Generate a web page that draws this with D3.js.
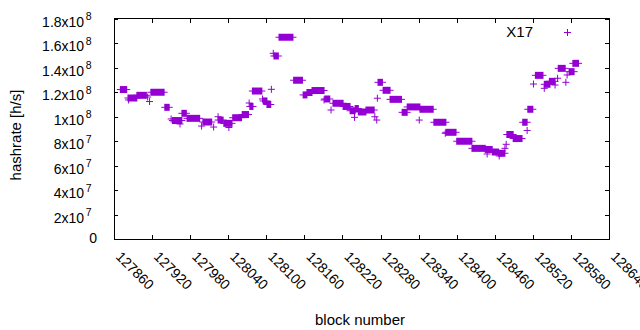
<!DOCTYPE html>
<html>
<head>
<meta charset="utf-8">
<script src="https://cdnjs.cloudflare.com/ajax/libs/d3/7.8.5/d3.min.js"></script>
<style>
	body { margin: 0; background: #fff; }
	svg { display: block; font-family: "Liberation Sans", Arial, sans-serif; }
</style>
</head>
<body>
<svg id="chart" width="640" height="330"></svg>
<script>
// runs of blocks that share one hashrate (from == to is a single point)
var blockFrom = [127870, 127882, 127883, 127896, 127913, 127916, 127918, 127940, 127950, 127952,
	127964, 127967, 127975, 127998, 128000, 128017, 128024, 128024, 128033, 128041,
	128047, 128062, 128073, 128074, 128078, 128094, 128095, 128101, 128108, 128111,
	128112, 128120, 128143, 128158, 128164, 128172, 128191, 128192, 128202, 128205,
	128221, 128232, 128239, 128240, 128245, 128257, 128271, 128274, 128275, 128276,
	128284, 128295, 128314, 128322, 128341, 128342, 128364, 128382, 128383, 128400,
	128424, 128445, 128448, 128456, 128466, 128467, 128476, 128478, 128479, 128489,
	128504, 128511, 128512, 128521, 128524, 128538, 128538, 128546, 128555, 128559,
	128560, 128572, 128574, 128577, 128583];
var blockTo = [127880, 127896, 127883, 127911, 127913, 127916, 127939, 127947, 127950, 127967,
	127964, 127974, 127995, 127998, 128014, 128017, 128024, 128032, 128046, 128041,
	128061, 128072, 128073, 128079, 128093, 128094, 128101, 128107, 128108, 128111,
	128119, 128142, 128157, 128164, 128172, 128191, 128191, 128200, 128202, 128221,
	128232, 128240, 128239, 128245, 128257, 128270, 128271, 128274, 128275, 128283,
	128295, 128313, 128322, 128342, 128341, 128363, 128383, 128382, 128399, 128424,
	128445, 128456, 128448, 128466, 128476, 128467, 128476, 128478, 128489, 128503,
	128511, 128511, 128520, 128521, 128536, 128538, 128547, 128555, 128555, 128559,
	128571, 128572, 128574, 128585, 128592];
var hashrate = [1.220e8, 1.151e8, 1.135e8, 1.173e8, 1.159e8, 1.122e8, 1.198e8, 1.075e8, 9.80e7, 9.67e7,
	9.39e7, 1.026e8, 9.85e7, 9.22e7, 9.55e7, 9.14e7, 9.98e7, 9.71e7, 9.44e7, 9.10e7,
	9.90e7, 1.016e8, 1.110e8, 1.082e8, 1.208e8, 1.143e8, 1.127e8, 1.098e8, 1.222e8, 1.516e8,
	1.494e8, 1.647e8, 1.296e8, 1.176e8, 1.196e8, 1.212e8, 1.135e8, 1.143e8, 1.053e8, 1.108e8,
	1.082e8, 1.047e8, 9.93e7, 1.065e8, 1.037e8, 1.053e8, 9.98e7, 9.71e7, 1.149e8, 1.279e8,
	1.214e8, 1.140e8, 1.034e8, 1.078e8, 9.71e7, 1.059e8, 9.53e7, 8.63e7, 8.71e7, 7.98e7,
	7.40e7, 7.31e7, 6.94e7, 7.10e7, 7.00e7, 6.78e7, 7.40e7, 7.73e7, 8.53e7, 8.20e7,
	9.53e7, 8.86e7, 1.059e8, 1.265e8, 1.336e8, 1.230e8, 1.263e8, 1.287e8, 1.257e8, 1.312e8,
	1.393e8, 1.279e8, 1.339e8, 1.366e8, 1.434e8];

var xTicks = [127860, 127920, 127980, 128040, 128100, 128160, 128220, 128280, 128340, 128400,
	128460, 128520, 128580, 128640];
var yTicks = [0, 2e7, 4e7, 6e7, 8e7, 1e8, 1.2e8, 1.4e8, 1.6e8, 1.8e8];
var yTickBase = ["0", "2x10", "4x10", "6x10", "8x10", "1x10", "1.2x10", "1.4x10", "1.6x10", "1.8x10"];
var yTickExp = ["", "7", "7", "7", "7", "8", "8", "8", "8", "8"];

var seriesName = "X17";

var plotLeft = 114, plotRight = 609, plotTop = 18.5, plotBottom = 239,
	half = 3.5,
	color = "#9400d3",
	fontSize = 15,
	tickFont = 14;

var x = d3.scaleLinear().domain([127860, 128640]).range([plotLeft, plotRight]);
var y = d3.scaleLinear().domain([0, 1.8e8]).range([plotBottom, plotTop]);

var svg = d3.select("#chart");

// ticks point inward on all four sides, like gnuplot
function tickAxis(axis, tx, ty) {
	var g = svg.append("g")
		.attr("transform", "translate(" + tx + "," + ty + ")")
		.call(axis.tickSize(-4).tickSizeOuter(0).tickFormat(""));
	g.select(".domain").remove();
	g.selectAll("line").attr("stroke", "#000").attr("shape-rendering", "crispEdges");
	return g;
}
tickAxis(d3.axisBottom(x).tickValues(xTicks), 0, plotBottom);
tickAxis(d3.axisTop(x).tickValues(xTicks), 0, plotTop);
tickAxis(d3.axisLeft(y).tickValues(yTicks), plotLeft, 0);
tickAxis(d3.axisRight(y).tickValues(yTicks), plotRight, 0);

svg.append("rect")
	.attr("x", plotLeft).attr("y", plotTop)
	.attr("width", plotRight - plotLeft).attr("height", plotBottom - plotTop)
	.attr("fill", "none").attr("stroke", "#000")
	.attr("shape-rendering", "crispEdges");

// y tick labels, exponent as superscript
var yLab = svg.selectAll("text.ylab")
	.data(yTicks)
	.enter()
	.append("text")
	.attr("class", "ylab")
	.attr("x", function(d, i) { return yTickExp[i] ? 91.5 : 97; })
	.attr("y", function(d, i) { return y(d) + (yTickExp[i] ? 8 : 4); })
	.attr("text-anchor", "end")
	.attr("font-size", tickFont)
	.attr("fill", "#000");
yLab.append("tspan")
	.text(function(d, i) { return yTickBase[i]; });
yLab.append("tspan")
	.attr("dx", 1.5)
	.attr("dy", -6.5)
	.attr("font-size", 10.5)
	.text(function(d, i) { return yTickExp[i]; });

// x tick labels, turned 45 degrees
svg.selectAll("text.xlab")
	.data(xTicks)
	.enter()
	.append("text")
	.attr("class", "xlab")
	.attr("transform", function(d) {
		return "translate(" + (x(d) + 4.5) + "," + 254 + ") rotate(45)";
	})
	.attr("dy", "0.35em")
	.attr("font-size", tickFont)
	.attr("fill", "#000")
	.text(function(d) { return d; });

svg.append("text")
	.attr("x", 360).attr("y", 325)
	.attr("text-anchor", "middle")
	.attr("font-size", fontSize)
	.text("block number");

svg.append("text")
	.attr("transform", "translate(21,135) rotate(-90)")
	.attr("text-anchor", "middle")
	.attr("font-size", fontSize)
	.text("hashrate [h/s]");

// each run is a row of "+" marks one block apart, which merge into a bar
var runs = hashrate.map(function(v, i) {
	return { from: blockFrom[i], to: blockTo[i], rate: v };
});

var mark = svg.append("g")
	.selectAll("g")
	.data(runs)
	.enter()
	.append("g");

mark.append("rect")
	.attr("x", function(d) { return x(d.from) - 0.5; })
	.attr("y", function(d) { return y(d.rate) - half; })
	.attr("width", function(d) { return x(d.to) - x(d.from) + 1; })
	.attr("height", 2 * half)
	.attr("fill", color);

mark.append("line")
	.attr("x1", function(d) { return x(d.from) - half; })
	.attr("x2", function(d) { return x(d.to) + half; })
	.attr("y1", function(d) { return y(d.rate); })
	.attr("y2", function(d) { return y(d.rate); })
	.attr("stroke", color)
	.attr("stroke-width", 1);

// key
svg.append("text")
	.attr("x", 533).attr("y", 37)
	.attr("text-anchor", "end")
	.attr("font-size", fontSize)
	.text(seriesName);

var key = svg.append("g").attr("stroke", color).attr("stroke-width", 1);
key.append("line").attr("x1", 567.5 - half).attr("x2", 567.5 + half).attr("y1", 32.5).attr("y2", 32.5);
key.append("line").attr("x1", 567.5).attr("x2", 567.5).attr("y1", 32.5 - half).attr("y2", 32.5 + half);
</script>
</body>
</html>
